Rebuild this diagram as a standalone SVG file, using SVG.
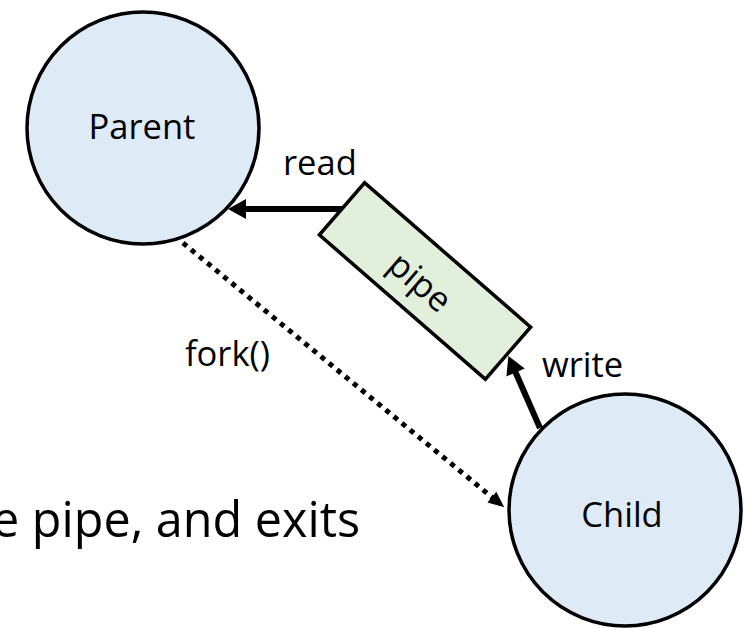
<svg xmlns="http://www.w3.org/2000/svg" width="753" height="628" viewBox="0 0 753 628">
  <style>
    .node { fill: #DEEAF6; stroke: #000; stroke-width: 3.5; }
    .pipe { fill: #E2EFDA; stroke: #000; stroke-width: 3.5; }
    .lbl { font-family: "Open Sans", "Noto Sans", "Liberation Sans", sans-serif; font-size: 34.5px; fill: #000; }
    .big { font-family: "Open Sans", "Noto Sans", "Liberation Sans", sans-serif; font-size: 48.5px; fill: #000; }
    .solid { stroke: #000; stroke-width: 6; fill: none; }
    .dotted { stroke: #000; stroke-width: 5; stroke-dasharray: 5 5.5; fill: none; }
  </style>
  <defs>
    <marker id="arrow" markerUnits="userSpaceOnUse" markerWidth="22" markerHeight="22" refX="1" refY="10" orient="auto" overflow="visible">
      <path d="M0,0 L18,10 L0,20 z" fill="#000"/>
    </marker>
    <marker id="arrowSmall" markerUnits="userSpaceOnUse" markerWidth="18" markerHeight="16" refX="1" refY="7" orient="auto" overflow="visible">
      <path d="M0,0 L16,7 L0,14 z" fill="#000"/>
    </marker>
  </defs>

  <g id="parent">
    <circle class="node" cx="143" cy="128" r="116"/>
    <text class="lbl" x="142" y="139" text-anchor="middle">Parent</text>
  </g>

  <g id="child">
    <circle class="node" cx="625" cy="510" r="116"/>
    <text class="lbl" x="622" y="527" text-anchor="middle">Child</text>
  </g>

  <g id="pipe">
    <g transform="translate(425,281) rotate(41)">
      <rect class="pipe" x="-110" y="-34.5" width="220" height="69"/>
      <text class="lbl" x="-3" y="16" text-anchor="middle">pipe</text>
    </g>
  </g>

  <g id="connectors">
    <line class="solid" x1="342" y1="209" x2="245" y2="209" marker-end="url(#arrow)"/>
    <line class="solid" x1="540" y1="428" x2="515.2" y2="371.5" marker-end="url(#arrow)"/>
    <line class="dotted" x1="183" y1="243" x2="492.6" y2="497.8" marker-end="url(#arrowSmall)"/>
    <text class="lbl" x="283" y="175">read</text>
    <text class="lbl" x="542" y="377">write</text>
    <text class="lbl" x="185" y="366">fork()</text>
  </g>

  <text class="big" x="-8" y="537">e pipe, and exits</text>
</svg>
